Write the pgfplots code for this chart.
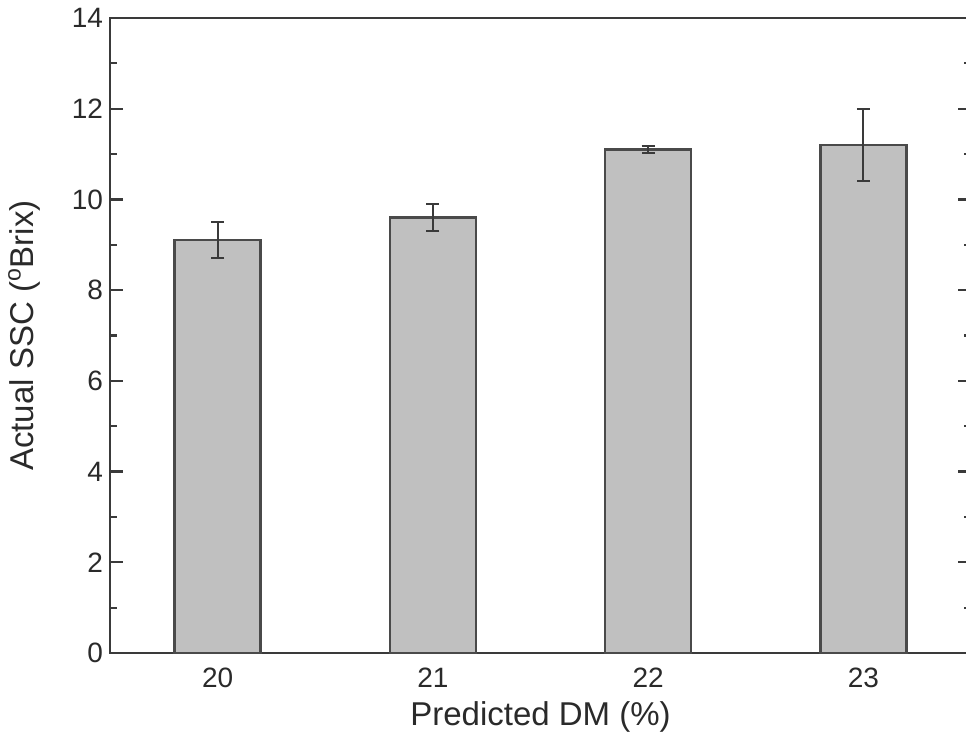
\documentclass[border=0pt]{standalone}
\usepackage{fontspec}
\setmainfont{Liberation Sans}
\usepackage{pgfplots}
\pgfplotsset{compat=1.18}
\definecolor{axgray}{HTML}{3A3A3A}
\definecolor{barfill}{HTML}{C0C0C0}
\definecolor{baredge}{HTML}{4A4A4A}
\definecolor{txt}{HTML}{2A2A2A}
\begin{document}
\begin{tikzpicture}
\begin{axis}[name=ax, scale only axis, width=430.5pt, height=317.5pt,
  xmin=19.5, xmax=23.5, ymin=0, ymax=14,
  xtick={20,21,22,23}, ytick={0,2,4,6,8,10,12,14}, minor y tick num=1,
  /pgf/number format/assume math mode=true,
  tick label style={font=\fontsize{14}{16}\selectfont, text=txt},
  xticklabel style={yshift=2.5pt},
  every axis x label/.style={at={(axis description cs:0.5,0)}, yshift=-32pt, anchor=center, font=\fontsize{16.5}{19}\selectfont, text=txt},
  every axis y label/.style={at={(axis description cs:0,0.5)}, xshift=-43pt, rotate=90, anchor=center, font=\fontsize{16.5}{19}\selectfont, text=txt},
  xlabel={Predicted DM (\%)}, ylabel={Actual SSC (\textsuperscript{o}Brix)},
  x tick style={draw=none},
  y tick style={axgray, line width=1.1pt},
  major tick length=6.5pt, minor tick length=3.5pt,
  tick align=inside,
  axis line style={axgray, line width=1.4pt},
  ybar, bar width=0.4,
]
\addplot[fill=barfill, draw=baredge, line width=1.2pt,
  error bars/.cd, y dir=both, y explicit,
  error bar style={line width=1.1pt, axgray},
  error mark options={rotate=90, mark size=3.25pt, line width=1.1pt, axgray}]
  coordinates {
    (20,9.1) +- (0,0.4)
    (21,9.6) +- (0,0.3)
    (22,11.1) +- (0,0.08)
    (23,11.2) +- (0,0.8)
  };
\end{axis}
\pgfresetboundingbox
\useasboundingbox ([xshift=-55pt,yshift=-50.5pt]ax.south west) rectangle ([xshift=-2.5pt,yshift=9pt]ax.north east);
\end{tikzpicture}
\end{document}
